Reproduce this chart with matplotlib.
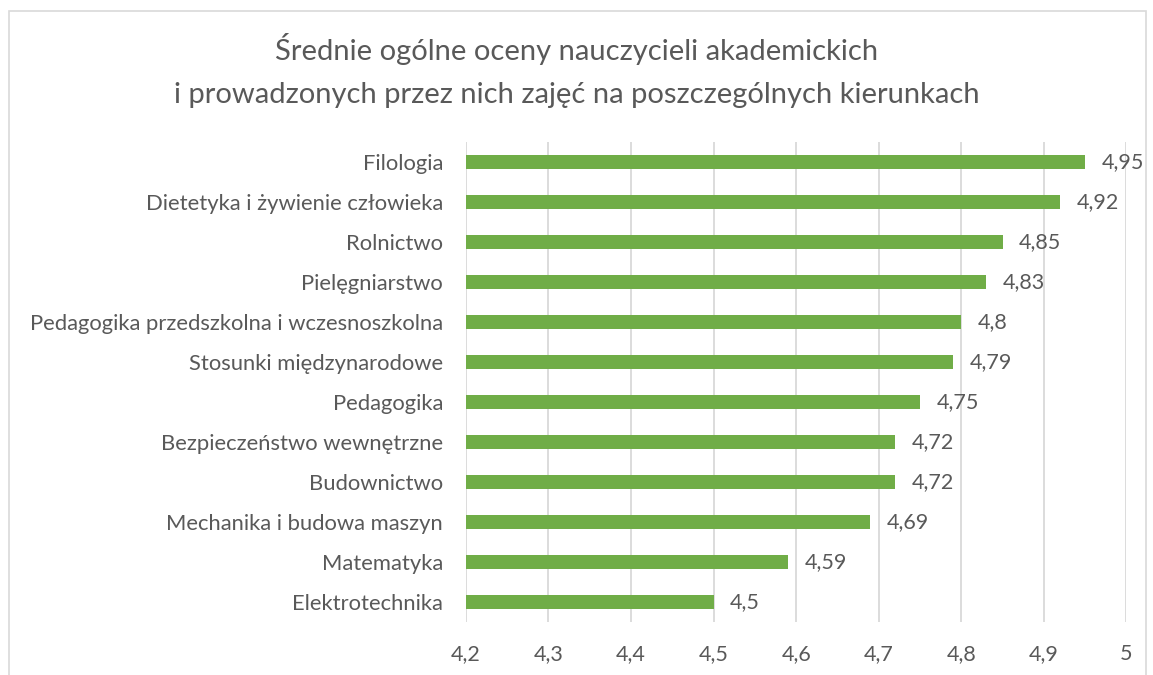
import matplotlib
matplotlib.use("Agg")
from matplotlib import pyplot as plt
from matplotlib.patches import Rectangle

# Data (top to bottom as in the chart)
kierunki = [
    "Filologia",
    "Dietetyka i żywienie człowieka",
    "Rolnictwo",
    "Pielęgniarstwo",
    "Pedagogika przedszkolna i wczesnoszkolna",
    "Stosunki międzynarodowe",
    "Pedagogika",
    "Bezpieczeństwo wewnętrzne",
    "Budownictwo",
    "Mechanika i budowa maszyn",
    "Matematyka",
    "Elektrotechnika",
]
oceny = [4.95, 4.92, 4.85, 4.83, 4.8, 4.79, 4.75, 4.72, 4.72, 4.69, 4.59, 4.5]
x_ticks = [4.2, 4.3, 4.4, 4.5, 4.6, 4.7, 4.8, 4.9, 5.0]

TEXT = "#595959"
GREEN = "#70AD47"
GRID = "#D9D9D9"

plt.rcParams['font.family'] = ['Lato', 'DejaVu Sans']


def fmt(v):
    s = ("%.2f" % v).rstrip("0").rstrip(".")
    return s.replace(".", ",")


fig = plt.figure(figsize=(11.53, 6.75), dpi=100)
ax = fig.add_axes([0.404, 0.0785, 0.573, 0.7115])

# chart border
fig.patches.append(Rectangle((9 / 1153, -0.05), 1137 / 1153, 1 - 11 / 675 + 0.05,
                             transform=fig.transFigure, fill=False,
                             edgecolor="#D9D9D9", linewidth=1.2))

y = list(range(len(kierunki)))[::-1]
base = 4.2
ax.barh(y, [v - base for v in oceny], left=base, height=0.36, color=GREEN, zorder=3)

for yi, v in zip(y, oceny):
    ax.text(v + 0.02, yi, fmt(v), va="center", ha="left", fontsize=15.5, color=TEXT)

ax.set_xlim(4.2, 5.0)
ax.set_ylim(-0.5, len(kierunki) - 0.5)
ax.set_xticks(x_ticks)
ax.set_xticklabels([fmt(t) for t in x_ticks], fontsize=15.5, color=TEXT)
ax.set_yticks(y)
ax.set_yticklabels(kierunki, fontsize=15.8, color=TEXT)
ax.tick_params(axis="both", length=0)
ax.tick_params(axis="x", pad=16)
ax.tick_params(axis="y", pad=16.5)
ax.xaxis.grid(True, color=GRID, linewidth=1.3, zorder=0)
for s in ax.spines.values():
    s.set_visible(False)

fig.text(0.5, 0.896, "Średnie ogólne oceny nauczycieli akademickich\n"
         "i prowadzonych przez nich zajęć na poszczególnych kierunkach",
         ha="center", va="center", fontsize=21, color=TEXT, linespacing=1.8)

fig.savefig("out.png", dpi=100)
